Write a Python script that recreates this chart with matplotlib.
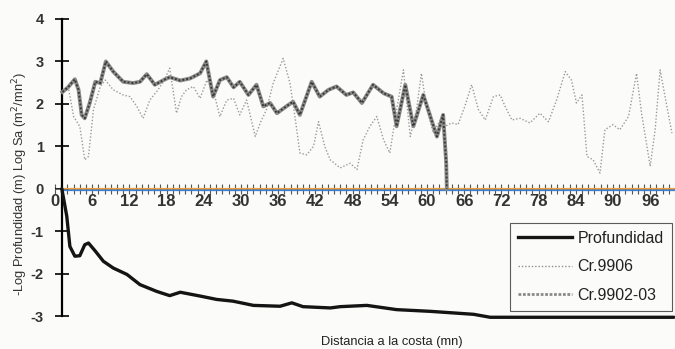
import numpy as np
import matplotlib
matplotlib.use('Agg')
import matplotlib.pyplot as plt
from matplotlib.lines import Line2D

plt.rcParams['font.family'] = ['Liberation Sans', 'DejaVu Sans']

# Profundidad (-log depth) along the distance to the coast
prof_x = [1.1, 1.9, 2.4, 3.2, 4.0, 4.8, 5.4, 6.5, 7.8, 9.4, 11.6, 13.7, 16.4, 18.5, 20.2,
          23.4, 26.1, 28.7, 32.0, 36.3, 38.2, 40.0, 44.4, 46.0, 50.3, 55.1, 60.5, 67.5,
          70.2, 82.0, 99.8]
prof_y = [0.0, -0.65, -1.36, -1.59, -1.58, -1.32, -1.28, -1.47, -1.71, -1.87, -2.02, -2.26,
          -2.42, -2.52, -2.44, -2.53, -2.61, -2.65, -2.75, -2.77, -2.69, -2.78, -2.81, -2.78,
          -2.75, -2.85, -2.89, -2.96, -3.03, -3.03, -3.03]

# Cr.9902-03 (log Sa)
c9902_x = [1.2, 2.1, 3.2, 3.8, 4.3, 4.8, 5.6, 6.5, 7.3, 8.2, 9.4, 11.0, 12.6, 13.7, 14.8,
           16.1, 17.5, 18.5, 20.2, 21.8, 23.4, 24.4, 25.5, 26.6, 27.7, 28.8, 29.8, 31.2,
           32.5, 33.6, 34.7, 35.8, 37.4, 38.4, 39.5, 41.4, 42.7, 44.1, 45.4, 47.0, 48.1,
           49.5, 51.3, 53.0, 54.3, 55.1, 56.5, 57.8, 59.4, 61.6, 62.6, 63.1, 63.2]
c9902_y = [2.28, 2.39, 2.58, 2.33, 1.74, 1.66, 2.02, 2.52, 2.49, 3.0, 2.76, 2.52, 2.49, 2.52,
           2.7, 2.45, 2.56, 2.63, 2.55, 2.6, 2.72, 3.0, 2.17, 2.56, 2.63, 2.39, 2.52, 2.21,
           2.45, 1.94, 2.02, 1.78, 1.95, 2.05, 1.74, 2.52, 2.17, 2.33, 2.41, 2.21, 2.27,
           2.02, 2.45, 2.25, 2.17, 1.47, 2.45, 1.47, 2.21, 1.23, 1.74, 0.6, 0.0]

# Cr.9906 (log Sa)
c9906_x = [1.3, 2.2, 3.0, 4.0, 4.8, 5.4, 6.2, 7.3, 8.1, 9.4, 11.0, 12.1, 13.2, 14.2, 15.3,
           16.4, 17.5, 18.5, 19.6, 20.4, 21.2, 22.3, 23.4, 24.5, 25.5, 26.6, 27.7, 28.8,
           29.8, 30.9, 32.3, 33.1, 34.1, 35.2, 36.8, 37.9, 38.7, 39.5, 40.6, 41.7, 42.5,
           43.5, 44.4, 46.0, 47.6, 48.7, 49.7, 50.8, 51.9, 53.0, 54.0, 55.1, 56.2, 57.3,
           58.3, 59.1, 59.9, 61.0, 62.4, 62.9, 64.0, 65.0, 66.1, 67.2, 68.3, 69.4, 70.7,
           71.8, 72.6, 73.7, 75.0, 76.6, 78.2, 79.6, 80.9, 82.3, 83.3, 84.1, 85.0, 85.8,
           86.8, 87.9, 88.7, 90.0, 91.1, 92.5, 93.8, 94.6, 96.0, 96.8, 97.6, 98.4, 99.5]
c9906_y = [2.3, 2.35, 1.7, 1.47, 0.68, 0.76, 1.86, 2.41, 2.56, 2.33, 2.21, 2.17, 1.94, 1.66,
           2.09, 2.29, 2.52, 2.84, 1.78, 2.17, 2.33, 2.41, 2.13, 2.56, 2.33, 1.7, 2.09, 2.13,
           1.74, 2.09, 1.23, 1.55, 1.86, 2.49, 3.07, 2.49, 1.7, 0.84, 0.8, 1.0, 1.58, 1.0,
           0.68, 0.49, 0.6, 0.45, 1.15, 1.47, 1.7, 1.15, 0.84, 1.86, 2.8, 1.23, 1.86, 2.72,
           1.94, 1.31, 1.7, 1.47, 1.55, 1.51, 1.94, 2.45, 1.86, 1.62, 2.17, 2.21, 1.94, 1.62,
           1.66, 1.55, 1.78, 1.58, 2.09, 2.76, 2.56, 2.02, 2.21, 0.76, 0.68, 0.37, 1.39,
           1.51, 1.39, 1.7, 2.72, 1.78, 0.53, 1.39, 2.8, 2.17, 1.31]

xtick_vals = list(range(0, 97, 6))
ytick_vals = [-3, -2, -1, 0, 1, 2, 3, 4]

bg = '#fbfbf9'
fig = plt.figure(figsize=(6.75, 3.49), dpi=100, facecolor=bg)
ax = fig.add_axes([55 / 675, 1 - 316 / 349, 620 / 675, 297 / 349])
ax.set_facecolor(bg)

ax.set_xlim(0, 100)
ax.set_ylim(-3, 4)

# zero lines (orange / blue) along the category axis
ax.plot([1.1, 100], [0.015, 0.015], color='#e8a040', lw=0.9, zorder=2)
ax.plot([1.1, 100], [-0.02, -0.02], color='#3b7fd4', lw=0.9, zorder=2)

ax.plot(c9906_x, c9906_y, color='#9a9a9a', lw=1.0, linestyle=(0, (1, 1.4)), zorder=3)
ax.plot(c9902_x, c9902_y, color='#8a8a8a', lw=2.8, zorder=4, solid_joinstyle='round')
ax.plot(c9902_x, c9902_y, color='#3a3a3a', lw=1.4, linestyle=(0, (1, 1)), zorder=5)
ax.plot(prof_x, prof_y, color='#141414', lw=2.4, zorder=6, solid_capstyle='round',
        clip_on=False)

for s in ['top', 'right']:
    ax.spines[s].set_visible(False)
ax.spines['left'].set_position(('data', 1.1))
ax.spines['bottom'].set_position(('data', 0))
ax.spines['left'].set_linewidth(1.6)
ax.spines['bottom'].set_linewidth(0.6)
ax.spines['bottom'].set_color('#777')

ax.set_yticks(ytick_vals)
ax.set_yticklabels([str(v) for v in ytick_vals], fontsize=10.5, fontweight='bold', color='#333')
ax.tick_params(axis='y', direction='inout', length=10, width=1.2, pad=8)

ax.set_xticks(xtick_vals)
ax.set_xticklabels([str(v) for v in xtick_vals], fontsize=12, fontweight='bold', color='#333')
ax.set_xticks(np.arange(1, 100, 1), minor=True)
ax.tick_params(axis='x', which='both', direction='inout', length=7, width=0.8,
               color='#555', pad=0)

fig.text(20 / 675, 1 - 184 / 349, '-Log Profundidad (m) Log Sa (m$^2$/mn$^2$)',
         rotation=90, ha='center', va='center', fontsize=9.3, color='#333')
fig.text(392 / 675, 1 - 342 / 349, 'Distancia a la costa (mn)',
         ha='center', va='center', fontsize=9.3, color='#222')

handles = [Line2D([], [], color='#141414', lw=2.4),
           Line2D([], [], color='#8e8e8e', lw=1.0, linestyle=(0, (1, 1.4))),
           Line2D([], [], color='#8a8a8a', lw=2.0, linestyle=(0, (1, 0.6)))]
leg = ax.legend(handles, ['Profundidad', 'Cr.9906', 'Cr.9902-03'],
                loc='lower right', bbox_to_anchor=(0.995, 0.017), fontsize=11.5,
                frameon=True, fancybox=False, handlelength=3.4, labelspacing=0.85,
                borderpad=0.5, handletextpad=0.35, borderaxespad=0)
leg.get_frame().set_edgecolor('#333')
leg.get_frame().set_linewidth(0.8)
leg.get_frame().set_facecolor(bg)
for t in leg.get_texts():
    t.set_color('#222')

fig.savefig('out.png', dpi=100, facecolor=bg)
